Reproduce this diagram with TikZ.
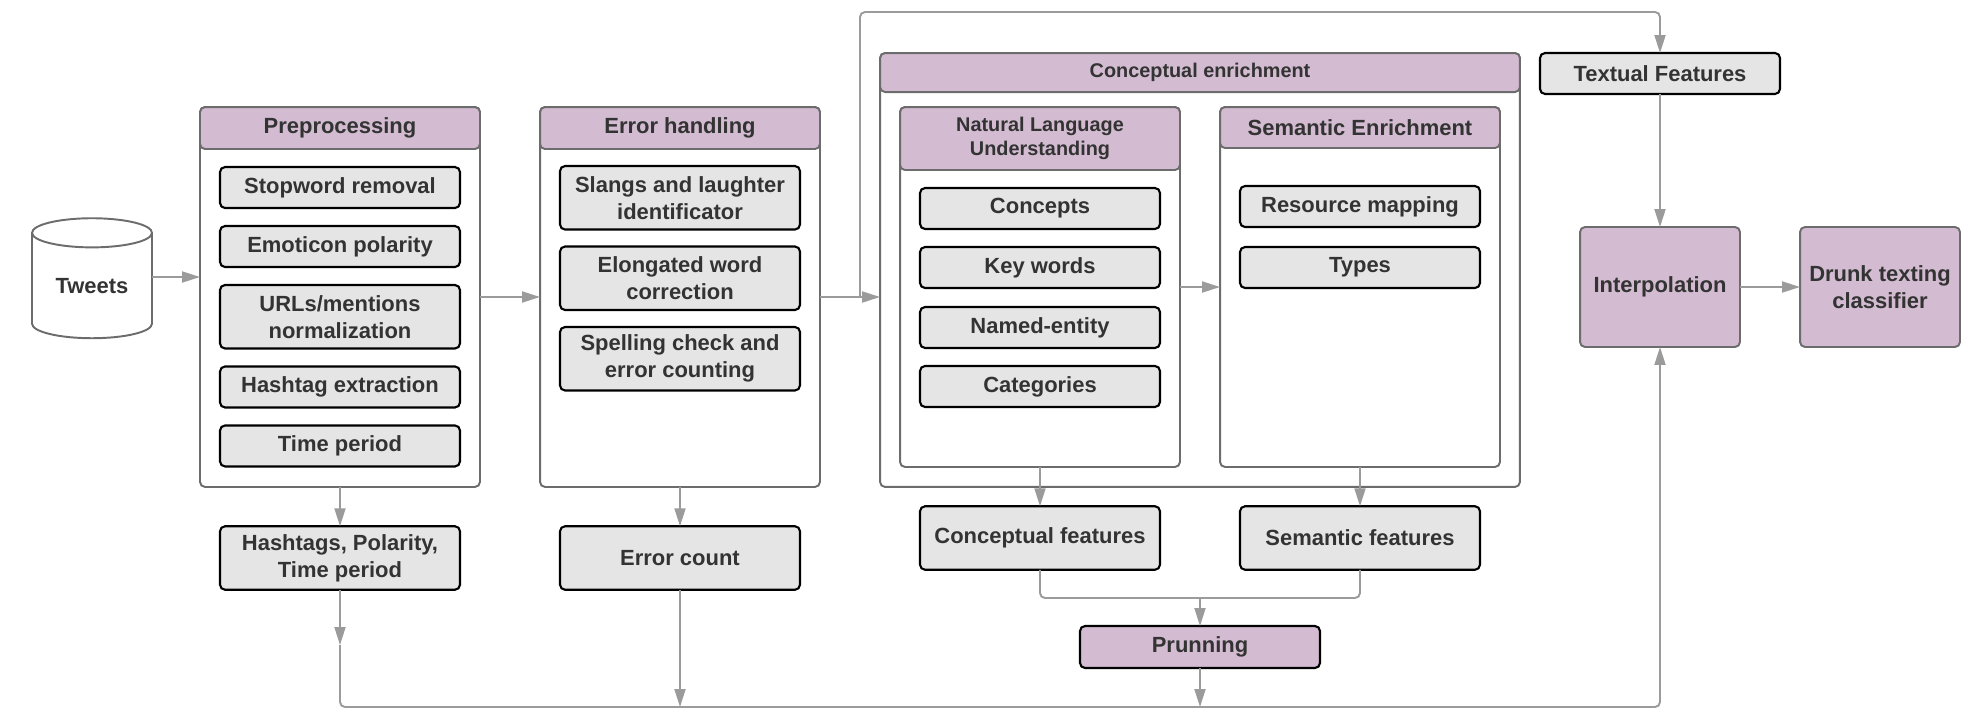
\documentclass[tikz,border=0pt]{standalone}
\usepackage{fontspec}
\setmainfont{Liberation Sans}
\usetikzlibrary{positioning, shapes.geometric, arrows.meta}
\definecolor{headpurple}{RGB}{211,188,209}
\definecolor{boxgray}{RGB}{229,229,229}
\definecolor{framegray}{RGB}{108,108,108}
\definecolor{linegray}{RGB}{155,155,155}
\definecolor{textgray}{RGB}{51,51,51}
\newcommand{\bigfont}{\fontsize{12.5}{15.3}\selectfont\bfseries}
\newcommand{\smallfont}{\fontsize{11.3}{13.6}\selectfont\bfseries}

\begin{document}
\begin{tikzpicture}[x = 0.02cm, y = -0.02cm,
		every node/.style = {font = \bigfont, text = textgray, outer sep = 0pt},
		panel/.style = {draw = framegray, line width = 1.1pt, fill = white, rounded corners = 0.1cm, inner sep = 0pt},
		head/.style = {panel, fill = headpurple, anchor = north, align = center},
		item/.style = {draw = black, line width = 1.2pt, fill = boxgray, rounded corners = 0.1cm, minimum width = 4.8cm, minimum height = 0.82cm, inner sep = 0pt, align = center},
		tall/.style = {item, minimum height = 1.27cm},
		stage/.style = {draw = framegray, line width = 1.1pt, fill = headpurple, rounded corners = 0.1cm, minimum width = 3.2cm, minimum height = 2.4cm, inner sep = 0pt, align = center},
		wire/.style = {draw = linegray, line width = 1.1pt},
		conn/.style = {wire, -{Triangle[length = 0.36cm, width = 0.22cm]}}]
		\useasboundingbox (0, 0) rectangle (1961, 710);
		% input
		\node[cylinder, shape border rotate = 90, draw = framegray, line width = 1.1pt, aspect = 0.4, minimum width = 2.4cm, minimum height = 2.4cm, inner sep = 0pt] (tweets) at (92, 286) {Tweets};
		% preprocessing
		\node[panel, minimum width = 5.6cm, minimum height = 7.6cm] (pre) at (340, 297) {};
		\node[head, minimum width = 5.6cm, minimum height = 0.84cm] (prehead) at (pre.north) {Preprocessing};
		\node[item, below = 0.36cm of prehead] (stop) {Stopword removal};
		\node[item, below = 0.36cm of stop] (emot) {Emoticon polarity};
		\node[tall, below = 0.36cm of emot] (urls) {URLs/mentions\\normalization};
		\node[item, below = 0.36cm of urls] (hashx) {Hashtag extraction};
		\node[item, below = 0.36cm of hashx] (period) {Time period};
		% error handling
		\node[panel, minimum width = 5.6cm, minimum height = 7.6cm] (err) at (680, 297) {};
		\node[head, minimum width = 5.6cm, minimum height = 0.84cm] (errhead) at (err.north) {Error handling};
		\node[tall, below = 0.34cm of errhead] (slang) {Slangs and laughter\\identificator};
		\node[tall, below = 0.34cm of slang] (elong) {Elongated word\\correction};
		\node[tall, below = 0.34cm of elong] (spell) {Spelling check and\\error counting};
		% conceptual enrichment
		\node[panel, minimum width = 12.8cm, minimum height = 8.68cm] (conc) at (1200, 270) {};
		\node[head, minimum width = 12.8cm, minimum height = 0.78cm, font = \smallfont] (conchead) at (conc.north) {Conceptual enrichment};
		\node[panel, minimum width = 5.6cm, minimum height = 7.2cm] (nlu) at (1040, 287) {};
		\node[head, minimum width = 5.6cm, minimum height = 1.26cm, font = \smallfont] (nluhead) at (nlu.north) {Natural Language\\Understanding};
		\node[item, below = 0.36cm of nluhead] (concepts) {Concepts};
		\node[item, below = 0.36cm of concepts] (keys) {Key words};
		\node[item, below = 0.38cm of keys] (named) {Named-entity};
		\node[item, below = 0.36cm of named] (cats) {Categories};
		\node[panel, minimum width = 5.6cm, minimum height = 7.2cm] (sem) at (1360, 287) {};
		\node[head, minimum width = 5.6cm, minimum height = 0.82cm] (semhead) at (sem.north) {Semantic Enrichment};
		\node[item, below = 0.76cm of semhead] (resmap) {Resource mapping};
		\node[item, below = 0.4cm of resmap] (types) {Types};
		% features
		\node[tall] (hashfeat) at (340, 558) {Hashtags, Polarity,\\Time period};
		\node[tall] (errcount) at (680, 558) {Error count};
		\node[tall] (concfeat) at (1040, 538) {Conceptual features};
		\node[tall] (semfeat) at (1360, 538) {Semantic features};
		\node[item, fill = headpurple, minimum height = 0.84cm] (prun) at (1200, 647) {Prunning};
		\node[item] (textual) at (1660, 73.5) {Textual Features};
		\node[stage] (interp) at (1660, 287) {Interpolation};
		\node[stage] (drunk) at (1880, 287) {Drunk texting\\classifier};
		% connectors
		\coordinate (tweetsout) at ([yshift = 0.18cm]tweets.east);
		\coordinate (split) at (860, 297);
		\coordinate (topline) at (860, 12);
		\coordinate (merge) at (1200, 598);
		\coordinate (hashtip) at (340, 645);
		\coordinate (busleft) at (340, 707);
		\draw[conn] (tweetsout) -- (tweetsout -| pre.west);
		\draw[conn] (pre.east) -- (err.west);
		\draw[conn] (err.east) -- (err.east -| conc.west);
		\draw[conn, rounded corners = 0.1cm] (split) -- (topline) -| (textual.north);
		\draw[conn] (nlu.east) -- (sem.west);
		\draw[conn] (pre.south) -- (hashfeat.north);
		\draw[conn] (err.south) -- (errcount.north);
		\draw[conn] (nlu.south) -- (concfeat.north);
		\draw[conn] (sem.south) -- (semfeat.north);
		\draw[wire, rounded corners = 0.1cm] (concfeat.south) |- (merge);
		\draw[wire, rounded corners = 0.1cm] (semfeat.south) |- (merge);
		\draw[conn] (merge) -- (prun.north);
		\draw[conn] (hashfeat.south) -- (hashtip);
		\draw[conn, rounded corners = 0.1cm] (hashtip) |- (interp.south |- busleft) -- (interp.south);
		\draw[conn] (errcount.south) -- (errcount.south |- busleft);
		\draw[conn] (prun.south) -- (prun.south |- busleft);
		\draw[conn] (textual.south) -- (interp.north);
		\draw[conn] (interp.east) -- (drunk.west);
	\end{tikzpicture}
\end{document}
